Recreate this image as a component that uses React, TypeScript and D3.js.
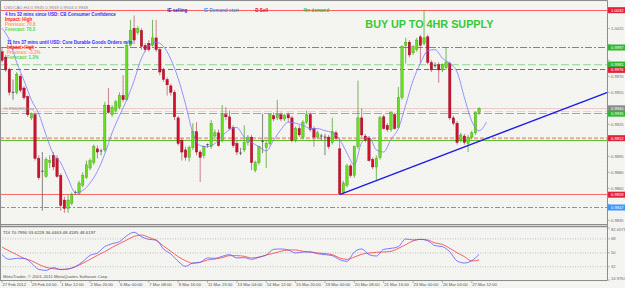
import React from 'react';
import * as d3 from 'd3';

// ---- price data (H4 candles) ----
const open = [0.9993,0.9988,0.9976,0.9956,0.9955,0.9970,0.9959,0.9951,0.9931,0.9934,
0.9893,0.9882,0.9876,0.9889,0.9896,0.9893,0.9877,0.9854,0.9846,0.9851,
0.9860,0.9860,0.9868,0.9875,0.9884,0.9889,0.9902,0.9899,0.9901,0.9943,
0.9934,0.9938,0.9941,0.9952,0.9948,0.9999,1.0015,1.0011,1.0013,0.9999,
1.0001,0.9999,1.0006,0.9995,0.9976,0.9967,0.9961,0.9955,0.9931,0.9910,
0.9901,0.9894,0.9903,0.9918,0.9899,0.9896,0.9905,0.9904,0.9914,0.9917,
0.9910,0.9934,0.9932,0.9922,0.9907,0.9899,0.9901,0.9908,0.9913,0.9882,
0.9889,0.9910,0.9903,0.9907,0.9933,0.9931,0.9934,0.9930,0.9934,0.9931,
0.9910,0.9921,0.9913,0.9927,0.9934,0.9921,0.9913,0.9913,0.9913,0.9913,
0.9908,0.9917,0.9902,0.9861,0.9868,0.9886,0.9877,0.9904,0.9931,0.9914,
0.9912,0.9892,0.9885,0.9894,0.9932,0.9924,0.9920,0.9934,0.9922,0.9950,
0.9999,1.0002,0.9992,0.9995,1.0007,1.0001,1.0007,0.9983,0.9981,0.9981,
0.9976,0.9978,0.9982,0.9931,0.9926,0.9910,0.9914,0.9907,0.9913,0.9917,
0.9936];
const high = [0.9997,0.9990,0.9978,0.9967,0.9974,0.9972,0.9961,0.9952,0.9936,0.9936,
0.9896,0.9899,0.9894,0.9896,0.9899,0.9896,0.9879,0.9857,0.9859,0.9861,
0.9863,0.9872,0.9880,0.9891,0.9893,0.9906,0.9905,0.9902,0.9946,0.9959,
0.9943,0.9948,0.9955,0.9971,1.0002,1.0023,1.0027,1.0017,1.0015,1.0001,
1.0004,1.0023,1.0023,0.9997,0.9978,0.9969,0.9963,0.9957,0.9933,0.9912,
0.9904,0.9905,0.9926,0.9927,0.9901,0.9905,0.9907,0.9929,0.9920,0.9920,
0.9943,0.9941,0.9938,0.9924,0.9910,0.9903,0.9924,0.9915,0.9915,0.9891,
0.9905,0.9935,0.9910,0.9935,0.9936,0.9948,0.9936,0.9935,0.9936,0.9933,
0.9923,0.9924,0.9929,0.9938,0.9936,0.9923,0.9919,0.9916,0.9916,0.9915,
0.9931,0.9919,0.9911,0.9872,0.9888,0.9888,0.9905,0.9966,0.9940,0.9916,
0.9914,0.9894,0.9896,0.9933,0.9934,0.9926,0.9937,0.9936,0.9960,0.9999,
1.0006,1.0004,0.9999,1.0006,1.0009,1.0032,1.0009,0.9985,0.9983,0.9983,
0.9982,0.9997,0.9984,0.9933,0.9928,0.9917,0.9916,0.9915,0.9919,0.9937,
0.9941];
const low = [0.9983,0.9974,0.9952,0.9948,0.9953,0.9955,0.9948,0.9932,0.9929,0.9891,
0.9873,0.9844,0.9875,0.9884,0.9882,0.9875,0.9844,0.9842,0.9842,0.9849,
0.9859,0.9859,0.9866,0.9874,0.9882,0.9887,0.9893,0.9896,0.9899,0.9935,
0.9932,0.9936,0.9939,0.9946,0.9947,0.9998,1.0000,1.0009,0.9995,0.9993,
0.9993,0.9998,0.9993,0.9971,0.9965,0.9952,0.9952,0.9929,0.9905,0.9891,
0.9891,0.9890,0.9901,0.9896,0.9871,0.9893,0.9903,0.9902,0.9910,0.9904,
0.9908,0.9929,0.9920,0.9903,0.9896,0.9896,0.9899,0.9905,0.9882,0.9880,
0.9887,0.9898,0.9884,0.9905,0.9928,0.9929,0.9928,0.9928,0.9927,0.9908,
0.9908,0.9913,0.9911,0.9925,0.9918,0.9904,0.9911,0.9910,0.9896,0.9902,
0.9906,0.9910,0.9859,0.9859,0.9866,0.9875,0.9875,0.9902,0.9913,0.9908,
0.9890,0.9883,0.9873,0.9892,0.9920,0.9918,0.9918,0.9920,0.9921,0.9948,
0.9982,0.9988,0.9990,0.9993,0.9982,0.9999,0.9981,0.9974,0.9978,0.9964,
0.9974,0.9976,0.9929,0.9924,0.9906,0.9908,0.9906,0.9899,0.9911,0.9915,
0.9934];
const close = [0.9985,0.9976,0.9955,0.9955,0.9972,0.9957,0.9950,0.9934,0.9935,0.9893,
0.9875,0.9881,0.9892,0.9891,0.9885,0.9876,0.9849,0.9846,0.9854,0.9859,
0.9861,0.9870,0.9877,0.9887,0.9891,0.9904,0.9899,0.9900,0.9943,0.9936,
0.9941,0.9946,0.9952,0.9948,0.9999,1.0013,1.0004,1.0015,0.9998,0.9995,
0.9995,1.0006,0.9995,0.9974,0.9967,0.9962,0.9955,0.9932,0.9907,0.9899,
0.9894,0.9903,0.9918,0.9899,0.9894,0.9904,0.9906,0.9926,0.9917,0.9905,
0.9934,0.9932,0.9921,0.9905,0.9899,0.9898,0.9908,0.9913,0.9889,0.9889,
0.9904,0.9909,0.9907,0.9934,0.9930,0.9934,0.9930,0.9933,0.9931,0.9910,
0.9921,0.9915,0.9927,0.9934,0.9920,0.9913,0.9917,0.9914,0.9913,0.9904,
0.9918,0.9912,0.9860,0.9870,0.9886,0.9877,0.9904,0.9931,0.9915,0.9910,
0.9891,0.9885,0.9893,0.9931,0.9921,0.9920,0.9936,0.9921,0.9950,0.9998,
1.0002,0.9990,0.9998,1.0004,0.9999,1.0006,0.9983,0.9976,0.9980,0.9976,
0.9981,0.9983,0.9931,0.9926,0.9908,0.9915,0.9908,0.9913,0.9917,0.9936,
0.9940];

// moving average (read every 2 bars, shifted past last bar)
const maValues = [1.0015,1.0004,0.9983,0.9966,0.9948,0.9935,0.9915,0.9897,0.9889,0.9874,
0.9861,0.9863,0.9870,0.9881,0.9897,0.9917,0.9933,0.9948,0.9966,0.9987,
0.9998,1.0002,0.9998,0.9986,0.9968,0.9944,0.9917,0.9905,0.9904,0.9907,
0.9914,0.9920,0.9922,0.9913,0.9908,0.9904,0.9900,0.9910,0.9920,0.9927,
0.9926,0.9924,0.9921,0.9921,0.9919,0.9917,0.9911,0.9898,0.9887,0.9908,
0.9913,0.9901,0.9899,0.9911,0.9921,0.9943,0.9966,0.9982,0.9994,0.9995,
0.9987,0.9982,0.9974,0.9950,0.9928,0.9919,0.9927];

// TDI indicator (read every 2 bars)
const tdiPrice = [47.7,41.6,42.9,42.9,36.9,28.7,27.4,30.9,28.3,29.2,
32.2,38.6,46.8,49.8,58.0,61.8,64.4,72.2,76.5,70.9,
67.4,66.6,55.0,48.5,39.1,32.6,36.9,37.8,43.4,42.9,
45.5,47.7,43.4,43.8,41.6,44.2,47.2,54.5,55.0,53.7,
49.8,51.1,51.1,48.9,47.7,46.4,41.2,39.1,51.1,55.0,
47.7,45.9,54.5,55.8,58.0,67.9,66.6,67.4,65.7,59.3,
58.0,51.5,39.5,36.9,39.9,48.1];
const tdiSignal = [57.5,52.4,47.7,42.9,39.9,35.2,31.3,29.6,28.7,29.2,
32.2,36.5,41.6,46.8,51.5,57.1,61.8,66.6,71.3,73.0,
70.0,66.1,58.8,52.0,45.1,39.9,36.5,37.8,40.8,42.0,
43.8,46.4,46.4,45.5,43.4,44.6,47.2,49.4,52.0,53.7,
53.7,52.0,51.1,49.8,49.0,47.7,43.4,41.6,44.6,48.1,
49.8,50.7,51.1,52.0,55.8,60.6,65.3,67.4,66.6,62.7,
61.0,55.8,50.2,45.1,39.5,40.8];
const tdiLevels = [68, 50, 32];
const tdiAxisValues = [82.0571, 68, 50, 32, 14.9767];

const priceTicks = [1.0015,1.0000,0.9985,0.9970,0.9955,0.9940,0.9925,0.9910,0.9895,0.9880,0.9865,0.9850,0.9835];
const levelPrices = [1.0032,0.9997,0.9981,0.9976,0.9940,0.9937,0.9935,0.9912,0.9910,0.9859,0.9847];

const timeLabels = ['27 Feb 2012','29 Feb 04:00','1 Mar 12:00','2 Mar 20:00','6 Mar 00:00','7 Mar 08:00','8 Mar 16:00','11 Mar 23:00','13 Mar 04:00','14 Mar 12:00','15 Mar 20:00','19 Mar 00:00','20 Mar 08:00','21 Mar 16:00','23 Mar 00:00','26 Mar 04:00','27 Mar 12:00'];
const timeLabelBars = [0,8,16,24,32,40,48,56,64,72,80,88,96,104,112,120,128];

const trendBars = [92, 165];
const trendPrices = [0.9859, 0.9955];

const noteTexts = ['IE selling', 'IE Demand start', 'D Sell', '4hr demand'];
const noteBars = [45, 55, 69, 82];

const newsLines = [
  '4 hrs 32 mins since USD: CB Consumer Confidence',
  'Impact: High',
  'Previous: 70.8',
  'Forecast: 70.3',
  '11 hrs 37 mins until USD: Core Durable Goods Orders m/m',
  'Impact: High',
  'Previous: -3.2%',
  'Forecast: 1.3%',
];

const FONT = 'Liberation Sans, Arial, sans-serif';

const levelStyle = [
  { stroke: '#ff6060', dash: undefined, w: 1, box: '#e0233a' },
  { stroke: '#ee5555', dash: '7,2,2,2', w: 1, box: '#2db82d' },
  { stroke: '#a6dca6', dash: '8,3', w: 1.3, box: '#2db82d' },
  { stroke: '#ee3a3a', dash: '5,3', w: 1, box: '#e0233a' },
  { stroke: '#efcaca', dash: undefined, w: 1, box: '#8a8a8a' },
  { stroke: '#c2e8c2', dash: '8,3', w: 1.2, box: null },
  { stroke: '#66d066', dash: '8,3', w: 1, box: '#2db82d' },
  { stroke: '#f0a4a4', dash: '4,2', w: 2, box: '#e0233a' },
  { stroke: '#5cc22e', dash: undefined, w: 1, box: null },
  { stroke: '#ff6a6a', dash: undefined, w: 1, box: '#e0233a' },
  { stroke: '#5a9af5', dash: '5,2,2,2', w: 1, box: '#3a97ff' },
];
const noteColors = ['#2a2ad0', '#3a97ff', '#e01010', '#33bb33'];
const newsColors = ['#2f2fff', '#ff2020', '#ff9a6a', '#4fd64f', '#2f2fff', '#ff2020', '#ff9a6a', '#4fd64f'];

export default function App() {
  const W = 625, H = 288;
  const axisX = 607.5;
  const mainBottom = 224.5;
  const n = open.length;
  const xs = d3.scaleLinear().domain([0, 130]).range([2, 479.1]);
  const ys = d3.scaleLinear().domain([0.9835, 1.0015]).range([220.3, 28.3]);
  const yt = d3.scaleLinear().domain([14.9767, 82.0571]).range([280, 228]);
  const crisp = (y: number) => Math.round(y - 0.5) + 0.5;

  const maLine = d3.line<number>()
    .x((_, i) => xs(i * 2))
    .y((v) => ys(v))
    .curve(d3.curveMonotoneX)(maValues) || '';
  const tdiLineP = d3.line<number>().x((_, i) => xs(i * 2)).y((v) => yt(v)).curve(d3.curveMonotoneX);
  const bw = 2.4;

  const boxYs = levelPrices.filter((_, i) => levelStyle[i].box).map((p) => ys(p));
  const visibleTicks = priceTicks.filter((p) => boxYs.every((by) => Math.abs(by - ys(p)) > 6.2));

  return (
    <svg width={W} height={H} viewBox={`0 0 ${W} ${H}`}
      style={{ position: 'absolute', left: 0, top: 0, display: 'block' }}
      fontFamily={FONT}>
      <defs>
        <pattern id="dots" width="4" height="4" patternUnits="userSpaceOnUse">
          <rect width="4" height="4" fill="#f5f5f2" />
          <rect x="1" y="1" width="0.8" height="0.8" fill="#dedede" />
          <rect x="3" y="3" width="0.6" height="0.6" fill="#e4e4e4" />
        </pattern>
        <clipPath id="mainClip"><rect x={1} y={1} width={axisX - 1} height={mainBottom - 1} /></clipPath>
        <clipPath id="tdiClip"><rect x={1} y={227} width={axisX - 1} height={53.5} /></clipPath>
      </defs>
      <rect width={W} height={H} fill="url(#dots)" />

      {/* main chart */}
      <g clipPath="url(#mainClip)">
        {levelPrices.map((p, i) => {
          const y = levelStyle[i].w === 1 ? crisp(ys(p)) : ys(p);
          return (
            <line key={'lv' + i} x1={0} x2={axisX} y1={y} y2={y}
              stroke={levelStyle[i].stroke} strokeWidth={levelStyle[i].w}
              strokeDasharray={levelStyle[i].dash} />
          );
        })}
        {noteTexts.map((t, i) => (
          <text key={'nt' + i} x={xs(noteBars[i])} y={ys(levelPrices[0]) + 1.7}
            fontSize={4.6} fontWeight="bold" fill={noteColors[i]}>{t}</text>
        ))}
        {d3.range(n).map((i) => {
          const o = open[i], c = close[i];
          const x = xs(i);
          const doji = Math.abs(c - o) < 0.00015;
          const bull = c >= o;
          const top = ys(Math.max(o, c));
          const h = Math.max(0.8, Math.abs(ys(o) - ys(c)));
          return (
            <g key={'c' + i}>
              <line x1={x} x2={x} y1={ys(high[i])} y2={ys(low[i])}
                stroke={doji ? '#555' : bull ? '#3f9d1c' : '#b4505e'} strokeWidth={0.7} />
              {doji ? (
                <line x1={x - bw / 2} x2={x + bw / 2} y1={ys(c)} y2={ys(c)} stroke="#333" strokeWidth={0.8} />
              ) : (
                <rect x={x - bw / 2} y={top} width={bw} height={h}
                  fill={bull ? '#66e01e' : '#d0102c'}
                  stroke={bull ? '#3c8f12' : '#85001a'} strokeWidth={0.35} />
              )}
            </g>
          );
        })}
        <path d={maLine} fill="none" stroke="#7b7bff" strokeWidth={0.8} />
        <line x1={xs(trendBars[0])} y1={ys(trendPrices[0])} x2={xs(trendBars[1])} y2={ys(trendPrices[1])}
          stroke="#1d1de6" strokeWidth={1.4} />
        <text x={xs(99)} y={ys(1.0015)} fontSize={10.8} fontWeight="bold" fill="#36c936">BUY UP TO 4HR SUPPLY</text>
      </g>

      {/* header texts */}
      <text x={4} y={9} fontSize={4.4} fill="#8a8a8a">USDCAD,H4  0.9945 0.9949 0.9944 0.9948</text>
      {newsLines.map((t, i) => (
        <text key={'nw' + i} x={i < 4 ? 5 : 7} y={(i < 4 ? 15.8 : 43.8) + (i % 4) * 5}
          fontSize={4.5} fontWeight="bold" fill={newsColors[i]}>{t}</text>
      ))}
      <text x={3} y={110} fontSize={4.2} fill="#8a8a8a">#0.9940(H4) buy</text>

      {/* frames */}
      <line x1={0.5} x2={0.5} y1={0.5} y2={280.5} stroke="#8c8c8c" strokeWidth={1} />
      <line x1={0.5} x2={axisX} y1={0.5} y2={0.5} stroke="#8c8c8c" strokeWidth={1} />
      <line x1={axisX} x2={axisX} y1={0.5} y2={280.5} stroke="#8c8c8c" strokeWidth={1} />
      <line x1={0} x2={axisX} y1={mainBottom} y2={mainBottom} stroke="#8c8c8c" strokeWidth={1} />
      <line x1={0} x2={axisX} y1={226.5} y2={226.5} stroke="#8c8c8c" strokeWidth={1.4} />
      <line x1={0} x2={axisX} y1={280.5} y2={280.5} stroke="#8c8c8c" strokeWidth={1} />

      {/* price axis */}
      {priceTicks.map((p, i) => (
        <line key={'ptl' + i} x1={axisX} x2={axisX + 2.5} y1={ys(p)} y2={ys(p)} stroke="#8c8c8c" strokeWidth={0.6} />
      ))}
      {visibleTicks.map((p, i) => (
        <text key={'pt' + i} x={axisX + 3.5} y={ys(p) + 1.5} fontSize={4.1} fill="#6a6a6a">{p.toFixed(4)}</text>
      ))}
      {levelPrices.map((p, i) => levelStyle[i].box ? (
        <g key={'bx' + i}>
          <rect x={axisX + 0.5} y={ys(p) - 3} width={W - axisX - 0.5} height={6} fill={levelStyle[i].box!} />
          <text x={axisX + 3.5} y={ys(p) + 1.5} fontSize={4.1} fill="#ffffff">{p.toFixed(4)}</text>
        </g>
      ) : null)}

      {/* TDI panel */}
      <g clipPath="url(#tdiClip)">
        {tdiLevels.map((v) => (
          <line key={'tl' + v} x1={0} x2={axisX} y1={yt(v)} y2={yt(v)} stroke="#9a9a9a" strokeWidth={0.6} strokeDasharray="1,1.5" />
        ))}
        <path d={tdiLineP(tdiSignal) || ''} fill="none" stroke="#ff3b3b" strokeWidth={0.8} />
        <path d={tdiLineP(tdiPrice) || ''} fill="none" stroke="#5a5aff" strokeWidth={0.8} />
      </g>
      <text x={3} y={233.5} fontSize={4.4} fill="#444">TDI 70.7990 53.6228 36.4463 48.4185 48.6197</text>
      <text x={3} y={278} fontSize={4.4} fill="#555">MetaTrader, © 2001-2011 MetaQuotes Software Corp.</text>
      {tdiAxisValues.map((v, i) => (
        <g key={'ta' + i}>
          <line x1={axisX} x2={axisX + 2.5} y1={yt(v)} y2={yt(v)} stroke="#8c8c8c" strokeWidth={0.6} />
          <text x={axisX + 3.5} y={yt(v) + (i === 0 ? 3 : i === 4 ? -0.5 : 1.5)} fontSize={4.1} fill="#6a6a6a">{String(v)}</text>
        </g>
      ))}

      {/* time axis */}
      {timeLabels.map((t, i) => (
        <g key={'tm' + i}>
          <line x1={xs(timeLabelBars[i])} x2={xs(timeLabelBars[i])} y1={280.5} y2={283} stroke="#8c8c8c" strokeWidth={0.6} />
          <text x={xs(timeLabelBars[i]) + 0.5} y={286} fontSize={4.2} fill="#555">{t}</text>
        </g>
      ))}
    </svg>
  );
}
